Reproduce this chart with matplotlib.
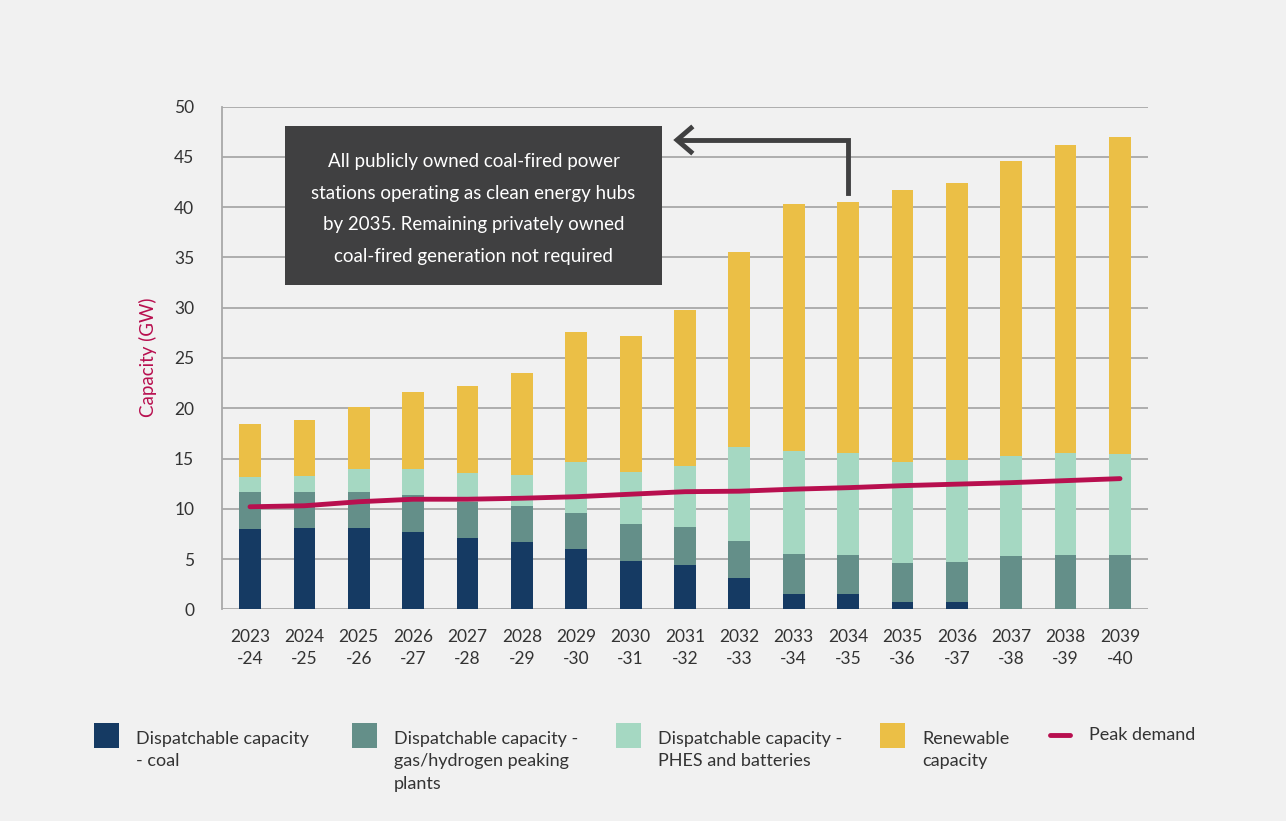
import matplotlib
matplotlib.use("Agg")
import matplotlib.pyplot as plt
import matplotlib.patches as mpatches
import matplotlib.lines as mlines
import numpy as np

plt.rcParams["font.family"] = ["Lato", "DejaVu Sans"]

# -- data (GW) -----------------------------------------------------------------
years = ["2023\n-24", "2024\n-25", "2025\n-26", "2026\n-27", "2027\n-28", "2028\n-29",
         "2029\n-30", "2030\n-31", "2031\n-32", "2032\n-33", "2033\n-34", "2034\n-35",
         "2035\n-36", "2036\n-37", "2037\n-38", "2038\n-39", "2039\n-40"]
coal = [8.0, 8.1, 8.1, 7.7, 7.1, 6.7, 6.0, 4.8, 4.4, 3.1, 1.5, 1.5, 0.7, 0.7, 0.0, 0.0, 0.0]
gas = [3.7, 3.6, 3.6, 3.7, 3.6, 3.6, 3.6, 3.7, 3.8, 3.7, 4.0, 3.9, 3.9, 4.0, 5.3, 5.4, 5.4]
phes = [1.5, 1.6, 2.3, 2.6, 2.9, 3.1, 5.1, 5.2, 6.1, 9.3, 10.2, 10.1, 10.1, 10.2, 9.95, 10.15, 10.05]
renew = [5.2, 5.5, 6.1, 7.6, 8.6, 10.1, 12.9, 13.5, 15.5, 19.4, 24.6, 25.0, 27.0, 27.5, 29.35, 30.65, 31.55]
peak = [10.2, 10.3, 10.7, 10.95, 10.95, 11.05, 11.2, 11.45, 11.7, 11.75, 11.95, 12.1, 12.3,
        12.45, 12.6, 12.8, 13.0]

C_COAL = "#153a63"
C_GAS = "#648f89"
C_PHES = "#a5d8c2"
C_RENEW = "#ebbf46"
C_PEAK = "#b80f4f"
BG = "#f1f1f1"
TXT = "#333333"

W, H = 1286, 821


def fx(px):
    return px / W


def fy(py):
    return 1 - py / H


fig = plt.figure(figsize=(12.86, 8.21), dpi=100)
fig.patch.set_facecolor(BG)
ax = fig.add_axes([fx(222), fy(609.3), fx(1148) - fx(222), fy(106.7) - fy(609.3)])
ax.set_facecolor(BG)

x = np.arange(len(years))
bw = 0.40
b = np.zeros(len(years))
for vals, col in [(coal, C_COAL), (gas, C_GAS), (phes, C_PHES), (renew, C_RENEW)]:
    ax.bar(x, vals, bw, bottom=b, color=col, zorder=3, linewidth=0)
    b += np.array(vals)

ax.plot(x, peak, color=C_PEAK, lw=3.5, solid_capstyle="round", zorder=4)

ax.set_xlim(-0.515, len(years) - 1 + 0.515)
ax.set_ylim(0, 50)
ax.set_yticks(range(0, 51, 5))
ax.yaxis.grid(True, color="#a8a8a8", lw=1.3, zorder=0)
ax.set_axisbelow(True)
for s in ["top", "right", "bottom"]:
    ax.spines[s].set_visible(False)
ax.spines["left"].set_color("#a8a8a8")
ax.spines["left"].set_linewidth(1.3)
ax.tick_params(axis="y", length=0, pad=20, labelsize=12.5, labelcolor=TXT)
ax.tick_params(axis="x", length=0, pad=14, labelsize=12.5, labelcolor=TXT)
ax.set_xticks(x)
ax.set_xticklabels(years, linespacing=1.5)

fig.text(fx(148), fy(357), "Capacity (GW)", rotation=90, ha="center", va="center",
         fontsize=13.5, color=C_PEAK)

# -- annotation box and arrow ---------------------------------------------------
fig.patches.append(mpatches.Rectangle((fx(285), fy(285)), fx(662) - fx(285), fy(126) - fy(285),
                                      transform=fig.transFigure, facecolor="#404041",
                                      edgecolor="none", zorder=5))
fig.text(fx(473.5), fy(209), "All publicly owned coal-fired power\n"
         "stations operating as clean energy hubs\n"
         "by 2035. Remaining privately owned\n"
         "coal-fired generation not required",
         ha="center", va="center", color="white", fontsize=13.5, linespacing=2.07, zorder=6)

arrow_col = "#404041"
fig.add_artist(mlines.Line2D([fx(848), fx(848), fx(680)], [fy(193), fy(140), fy(140)],
                             color=arrow_col, lw=3.5, solid_joinstyle="miter"))
fig.add_artist(mlines.Line2D([fx(691), fx(677), fx(691)], [fy(128), fy(140), fy(152)],
                             color=arrow_col, lw=3.5, solid_joinstyle="miter"))

# -- legend ---------------------------------------------------------------------
legend_items = [
    (94, C_COAL, 136, "Dispatchable capacity\n- coal"),
    (352, C_GAS, 394, "Dispatchable capacity -\ngas/hydrogen peaking\nplants"),
    (616, C_PHES, 658, "Dispatchable capacity -\nPHES and batteries"),
    (880, C_RENEW, 922, "Renewable\ncapacity"),
]
for sx, col, tx, label in legend_items:
    fig.patches.append(mpatches.Rectangle((fx(sx), fy(748)), fx(25), 25 / H,
                                          transform=fig.transFigure, facecolor=col,
                                          edgecolor="none"))
    fig.text(fx(tx), fy(730.5), label, ha="left", va="top", fontsize=13, color=TXT,
             linespacing=1.52)
fig.add_artist(mlines.Line2D([fx(1050), fx(1070)], [fy(735), fy(735)], color=C_PEAK, lw=3.5,
                             solid_capstyle="round"))
fig.text(fx(1089), fy(727), "Peak demand", ha="left", va="top", fontsize=13, color=TXT)

plt.savefig("out.png", dpi=100, facecolor=fig.get_facecolor())
plt.close()
